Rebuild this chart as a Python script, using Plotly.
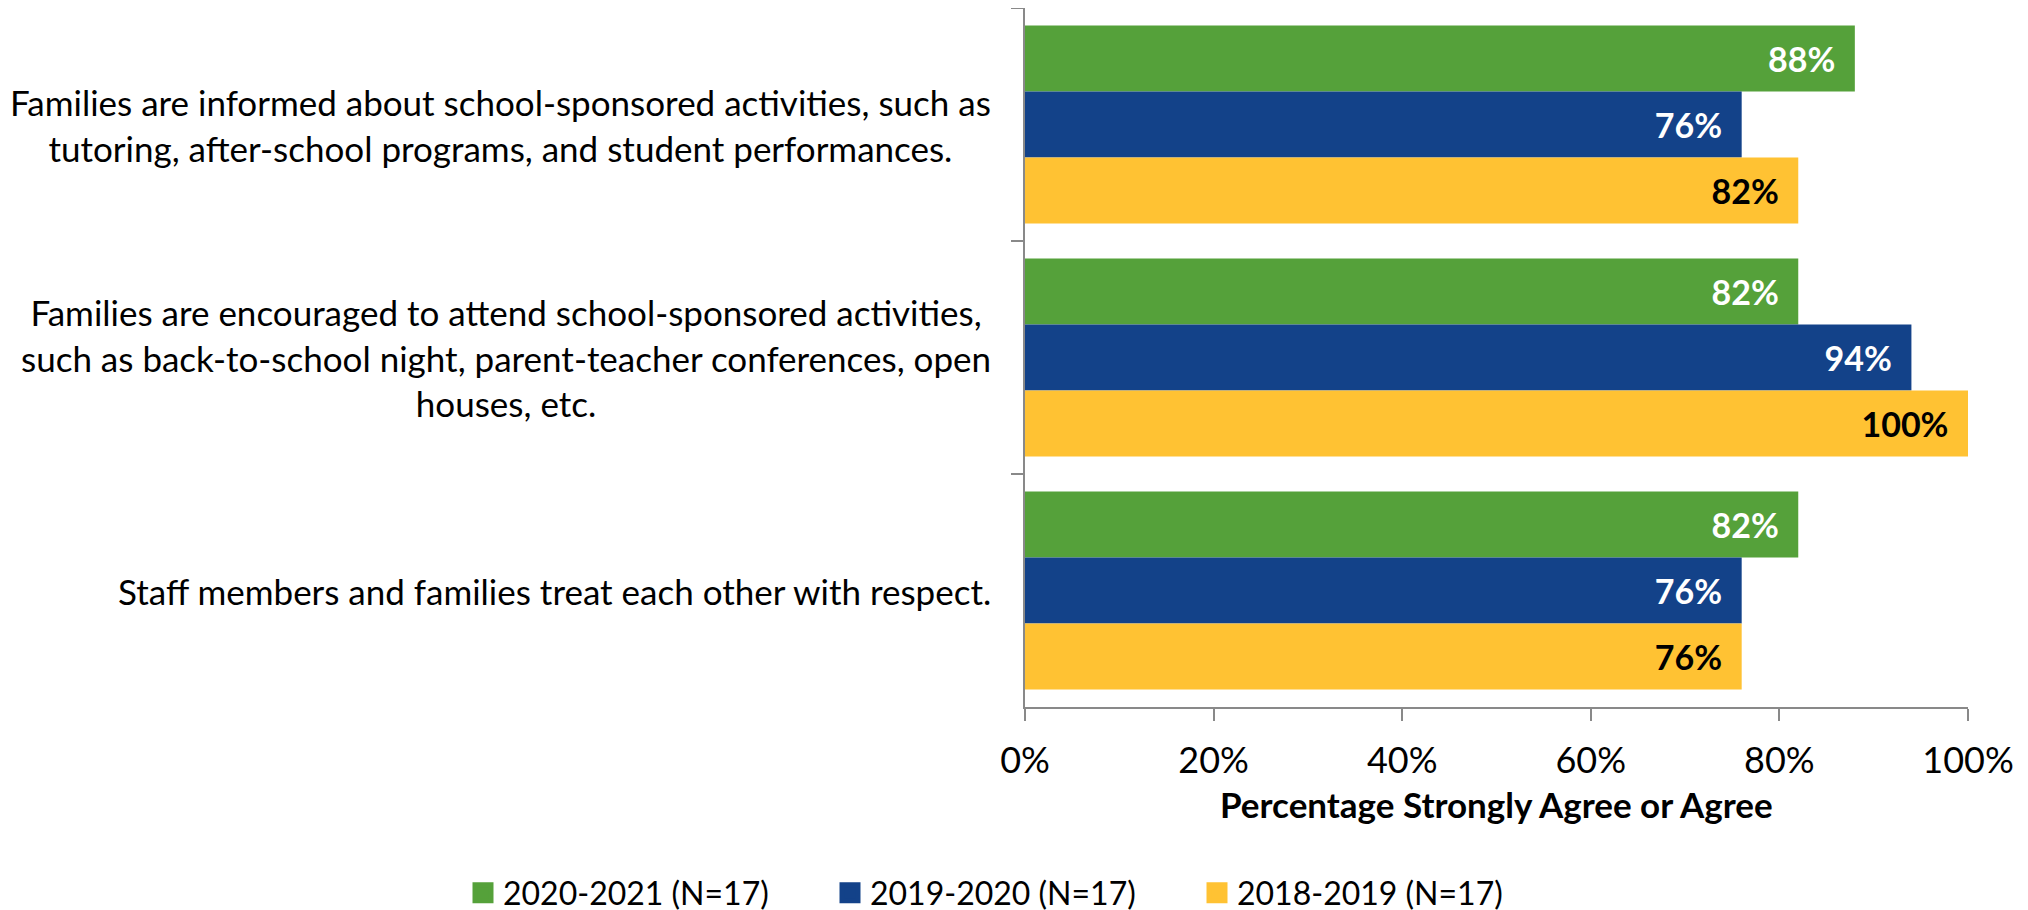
import plotly.graph_objects as go

categories = [
    "Families are informed about school-sponsored activities, such as<br>tutoring, after-school programs, and student performances.",
    "Families are encouraged to attend school-sponsored activities,<br>such as back-to-school night, parent-teacher conferences, open<br>houses, etc.",
    "Staff members and families treat each other with respect.",
]
series_names = ["2020-2021 (N=17)", "2019-2020 (N=17)", "2018-2019 (N=17)"]
values_2020_2021 = [0.88, 0.82, 0.82]
values_2019_2020 = [0.76, 0.94, 0.76]
values_2018_2019 = [0.82, 1.00, 0.76]
x_tick_vals = [0, 0.2, 0.4, 0.6, 0.8, 1.0]
x_tick_text = ["0%", "20%", "40%", "60%", "80%", "100%"]

colors = ["#55A13A", "#134289", "#FFC233"]
text_colors = ["white", "white", "black"]
FONT = "Lato"

# page body has an 8px margin; compensate so plot lands at page x 1025..1968, y 8..707
W, H = 2028, 910
OFF = 8
L = 1025 - OFF
R = W - (1968 - OFF)
T = 0
B = H - (707 - OFF)
PH = (707 - OFF) - T

fig = go.Figure()
for name, vals, col, tcol in zip(series_names,
                                 [values_2020_2021, values_2019_2020, values_2018_2019],
                                 colors, text_colors):
    fig.add_trace(go.Bar(
        y=categories, x=vals, name=name, orientation="h",
        marker=dict(color=col, line=dict(width=0)),
        texttemplate="%{x:.0%}\u00a0\u00a0", textposition="inside",
        insidetextanchor="end", constraintext="none",
        textfont=dict(family=FONT, size=34, color=tcol, weight="bold"),
        hoverinfo="skip", showlegend=False,
    ))
    # legend entry with a larger square swatch
    fig.add_trace(go.Scatter(
        x=[None], y=[None], mode="markers", name=name,
        marker=dict(symbol="square", size=16, color=col, line=dict(color=col, width=5)),
        showlegend=True, hoverinfo="skip",
    ))

for cat in categories:
    fig.add_annotation(
        x=0, xref="paper", y=cat, yref="y", text=cat, showarrow=False,
        xanchor="right", yanchor="middle", xshift=-32, align="center",
        font=dict(family=FONT, size=35, color="black"),
    )

fig.add_annotation(
    x=0.5, xref="paper", y=-(804 - 707) / PH, yref="paper",
    text="<b>Percentage Strongly Agree or Agree</b>",
    showarrow=False, xanchor="center", yanchor="middle",
    font=dict(family=FONT, size=35, color="black"),
)

fig.update_layout(
    width=W, height=H,
    margin=dict(l=L, r=R, t=T, b=B, pad=0, autoexpand=False),
    paper_bgcolor="white", plot_bgcolor="white",
    barmode="group", bargap=0.15, bargroupgap=0,
    showlegend=True,
    legend=dict(orientation="h", x=(463 - OFF - L) / 943, xanchor="left",
                y=-(893 - 707) / PH, yanchor="middle",
                font=dict(family=FONT, size=32, color="black"),
                itemsizing="trace", traceorder="normal",
                entrywidth=322, entrywidthmode="pixels",
                bgcolor="rgba(0,0,0,0)"),
    font=dict(family=FONT, size=32, color="black"),
)
fig.update_xaxes(
    range=[0, 1], tickvals=x_tick_vals, ticktext=x_tick_text,
    showline=True, linecolor="#898989", linewidth=2,
    ticks="outside", ticklen=12, tickcolor="#898989", tickwidth=2,
    showgrid=False, zeroline=False,
    tickfont=dict(family=FONT, size=36, color="black"),
    ticklabelstandoff=9,
)
fig.update_yaxes(
    autorange="reversed", tickson="boundaries", showticklabels=False,
    showline=True, linecolor="#898989", linewidth=2,
    ticks="outside", ticklen=12, tickcolor="#898989", tickwidth=2,
    showgrid=False,
)

fig.write_html("out.html")
